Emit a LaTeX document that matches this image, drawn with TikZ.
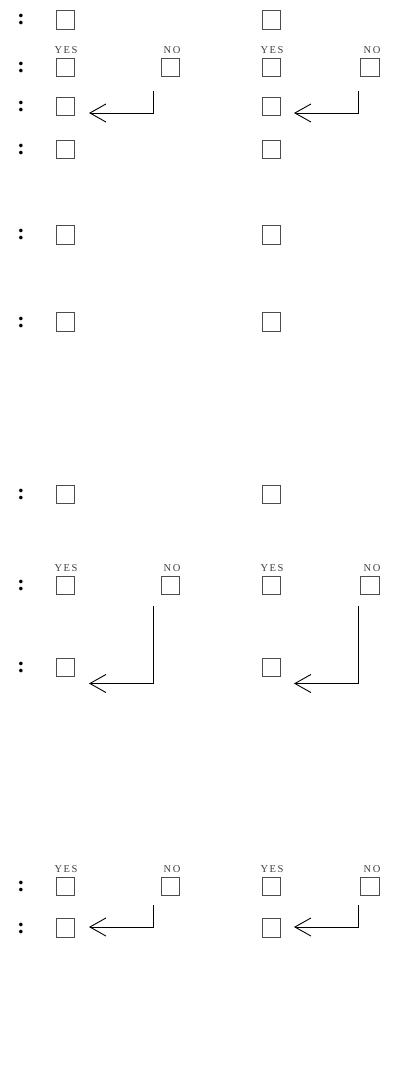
\documentclass[tikz,border=0pt]{standalone}
\usepackage{fontspec}
\setmainfont{Liberation Serif}
\usetikzlibrary{arrows.meta}
\tikzset{
  chk/.style={draw=black!70, line width=0.9pt, minimum size=18.5pt, inner sep=0pt, outer sep=0pt},
  colon/.style={font=\fontsize{22}{22}\selectfont\bfseries, anchor=base, inner sep=0pt},
  ynlabel/.style={font=\fontsize{10.5}{11}\selectfont\addfontfeatures{LetterSpace=15}, anchor=base, inner sep=0pt, text=black!75},
  flow/.style={line width=0.9pt, -{Straight Barb[length=16pt,width=18pt,line width=0.9pt]}}
}
\begin{document}
\begin{tikzpicture}[x=1pt,y=-1pt]
\useasboundingbox (0,0) rectangle (414,1067);
% colons and single boxes
\foreach \n/\y in {1/20,2/67.5,3/106.5,4/149.5,5/235,6/322,7/494.5,8/585.5,9/667.5,10/886.5,11/928}{
  \node[colon] (col\n) at (21,\y+5) {:};
  \node[chk] (bl\n) at (65.5,\y) {};
  \node[chk] (br\n) at (271.5,\y) {};
}
% NO boxes and labels
\foreach \n/\y in {2/67.5,8/585.5,10/886.5}{
  \node[chk] (nl\n) at (170.5,\y) {};
  \node[chk] (nr\n) at (370,\y) {};
  \node[ynlabel] (yesl\n) at (66,\y-14) {YES};
  \node[ynlabel] (nol\n) at (172,\y-14) {NO};
  \node[ynlabel] (yesr\n) at (272,\y-14) {YES};
  \node[ynlabel] (nor\n) at (372,\y-14) {NO};
}
% arrow coordinates
\coordinate (sa1) at (153,91);   \coordinate (ta1) at (89,113);
\coordinate (sa2) at (358,91);   \coordinate (ta2) at (294,113);
\coordinate (sb1) at (153,606);  \coordinate (tb1) at (89,683.5);
\coordinate (sb2) at (358,606);  \coordinate (tb2) at (294,683.5);
\coordinate (sc1) at (153,905);  \coordinate (tc1) at (89,927);
\coordinate (sc2) at (358,905);  \coordinate (tc2) at (294,927);
\draw[flow] (sa1) |- (ta1);
\draw[flow] (sa2) |- (ta2);
\draw[flow] (sb1) |- (tb1);
\draw[flow] (sb2) |- (tb2);
\draw[flow] (sc1) |- (tc1);
\draw[flow] (sc2) |- (tc2);
\end{tikzpicture}
\end{document}
